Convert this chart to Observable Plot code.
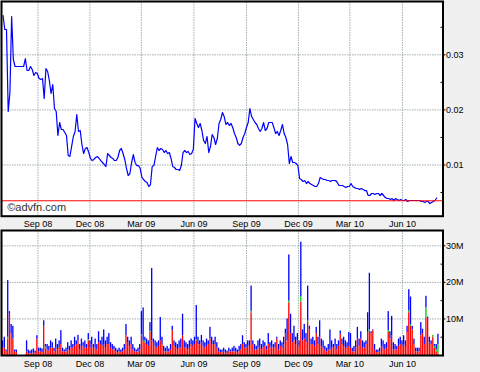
<!DOCTYPE html>
<html><head><meta charset="utf-8">
<script src="https://cdn.jsdelivr.net/npm/d3@7"></script>
<script src="https://cdn.jsdelivr.net/npm/@observablehq/plot@0.6"></script>
<style>
html,body{margin:0;padding:0;background:#f0f0f0;}
#chart{width:480px;height:372px;background:#f0f0f0;overflow:hidden}
#chart svg{display:block}
</style></head><body><div id="chart"></div>
<script>
// ---- data ----
const seriesStart = "2008-07-02";   // first sample date
const stepDays = 3;                 // one sample every 3 calendar days
const price = [
0.03714,0.0346,0.0346,0.01971,0.02316,0.03696,0.02915,0.02788,0.02788,0.02788,
0.02788,0.02788,0.02788,0.02933,0.02715,0.02715,0.02788,0.02733,0.02624,0.02679,
0.02661,0.0257,0.02552,0.0257,0.02207,0.02751,0.02697,0.02534,0.02298,0.02461,
0.02025,0.01971,0.01535,0.01771,0.01644,0.01644,0.01589,0.01535,0.01172,0.01154,
0.01336,0.01517,0.01608,0.01916,0.01608,0.01626,0.01372,0.01208,0.01299,0.01317,
0.01226,0.01118,0.01081,0.011,0.01136,0.01154,0.01118,0.01081,0.01045,0.01009,
0.00972,0.01208,0.01172,0.01136,0.01118,0.01081,0.01081,0.01136,0.01263,0.01299,
0.01208,0.011,0.00936,0.00809,0.00845,0.01045,0.0119,0.01045,0.0099,0.0099,
0.00936,0.00773,0.00736,0.007,0.00682,0.00609,0.00645,0.00972,0.0099,0.01154,
0.01317,0.01263,0.01299,0.01281,0.01226,0.01263,0.01208,0.01226,0.01118,0.00972,
0.00954,0.00918,0.00918,0.009,0.0099,0.01226,0.01263,0.01226,0.01245,0.0119,
0.01208,0.01281,0.01844,0.01753,0.0168,0.01753,0.01626,0.01444,0.0139,0.01517,
0.01226,0.01336,0.01553,0.01499,0.01372,0.01481,0.01753,0.01826,0.01953,0.0188,
0.01735,0.01771,0.01717,0.01753,0.0168,0.01571,0.01499,0.0139,0.01354,0.0139,
0.01499,0.01571,0.0168,0.01771,0.02025,0.0188,0.01826,0.01771,0.01735,0.01662,
0.01608,0.01662,0.01771,0.01626,0.01662,0.01771,0.01771,0.01771,0.0168,0.01571,
0.01608,0.01535,0.01626,0.01735,0.01571,0.01499,0.01372,0.01027,0.01154,0.01045,
0.01045,0.01027,0.0099,0.00754,0.00736,0.007,0.00718,0.00663,0.007,0.00663,
0.00645,0.00627,0.00609,0.00609,0.00663,0.00773,0.00754,0.00736,0.00736,0.00718,
0.00718,0.007,0.00718,0.00718,0.00718,0.00682,0.00627,0.00627,0.00627,0.00609,
0.00591,0.00609,0.00609,0.00663,0.00609,0.00591,0.00573,0.00573,0.00555,0.00573,
0.00555,0.00536,0.00536,0.00446,0.00446,0.00482,0.00482,0.00464,0.00482,0.00482,
0.00446,0.00482,0.00446,0.00409,0.00391,0.00391,0.00373,0.00391,0.00355,0.00391,
0.00373,0.00355,0.00373,0.00355,0.00355,0.00373,0.00337,0.00355,0.00355,0.00355,
0.00355,0.00355,0.00355,0.00355,0.00337,0.00337,0.00319,0.00337,0.00337,0.003,
0.00319,0.00337,0.00355,0.004
];
// volume in millions, same sample dates
const volSell = [
2,2,1,4.5,11.5,6,4.5,1,0.8,0,
0,0,0,0,1,0.5,0.5,0.5,0.8,0.5,
4.5,1,1,0.8,8,1.8,1.5,1.2,2,2,
1,2,1.5,2,3,1,1,1,1.5,1.2,
2,2,2.5,3,4,1.5,2.5,2.5,2,2,
4,2,3,2,2,1.5,3.5,3,2.5,3,
2,3,3,2,1.5,1.5,1,0.8,1,0.8,
1,1.5,5.4,3.5,2.5,3,1.5,1,1,1,
1.5,5.4,4,3.5,3,2.5,6.3,4,3.5,2.5,
2,2.5,4,3,1,1,1,1,1.5,6.8,
2.5,2,1.5,2,2,5.4,2,2,1.5,2,
3,2.5,3,4,3,3,3.5,2.5,2,2.5,
3,4.5,3,3,3,2,1,0.8,0.8,1,
0.8,0.5,1,1,1,1,1,0.8,1,1.5,
3,2,2,2.5,2.5,11.7,3,1.5,1.5,2,
2.5,1.5,2,2.5,1.5,3,2,2.5,2,2,
4.5,1.5,2.5,2,3,6,4,14.4,6,3.5,
4,3,4,2.5,14.6,4,4.5,3.5,9,7,
3,3,2.5,6,3,5,2.5,2,1.5,1,
1.5,1.5,2,2,2.5,1.5,2.5,5.8,3,2.5,
2,2,2.5,2,1,1,2,4.5,2.5,4.5,
2,2,3,6.3,6.3,6,6.8,1.5,0.8,0.8,
1,2.5,2,1.5,2,6.3,4.5,5.4,1.5,1.5,
1.5,2.5,3,2.5,3,2.5,6.3,11.7,8,7,
3,1,1,1,5.4,6,3,10.3,10,3.5,
3,5,2,1,0.5
];
const volNeutral = [
0,0,0,0.5,0,0,0,0,0,0,
0,0,0,0,0,0,0,0,0,0,
0,0,0,0,0,0.5,0,0,0,0,
0,0,0,0,0,0,0,0,0,0,
0,0,0,0,0,0,0,0,0,0,
0.3,0,0,0,0,0,0,0,0,0,
0,0,0,0,0,0,0,0,0,0,
0,0,0,0,0,0,0,0,0,0,
0,0.3,0,0.5,0,0,0.3,0,0,0,
0,0,0,0,0,0,0,0,0,0,
0,0,0,0,0,0,0,0,0,0,
0,0,0,0.3,0,0,0,0,0,0,
0,0,0,0,0,0,0,0,0,0,
0,0,0,0,0,0,0,0,0,0,
0,0,0,0,0,0.4,0,0,0,0,
0,0,0,0,0,0,0,0,0,0,
0,0,0,0,0,0,0,0.5,0,0,
0,0,0,0,1.5,0,0,0,0.4,0,
0,0,0,0,0,0,0,0,0,0,
0,0,0,0,0,0,0,0,0,0,
0,0,0,0,0,0,0,0,0,0,
0,0,0,0,0.8,0,0,0,0,0,
0,0,0,0,0,0.5,0,0,0,0,
0,0,0,0,0,0,0,0.5,0.4,0,
0,0,0,0,0,0,0,2.7,0,0,
0,0.5,0.5,0.5,2.5
];
const volBuy = [
2,3,0.5,15.5,0.5,2.5,3.5,0.5,0.7,0,
0,0,0,0,3,1,0.7,1,1,0.7,
0.9,1,1,1,1.5,0.7,1.5,1.3,2,1.5,
1,2.5,1.5,2,3.8,1,0.5,1,2,1.3,
2,1,2.5,1,1.5,1.5,2,1,2,1,
1.7,2,2,1,2.5,1.5,3,1,2.5,4,
2,2,3,1.5,1.5,1,1,0.7,1,0.7,
1,1.5,3.1,1.5,1.5,2,1.5,1,0.5,1,
1.5,6.3,9,1,1.5,1.5,2.4,19.8,1,1.5,
1.5,1.5,6.4,2,1.5,1,1.5,0.8,1.5,1.2,
1.5,1.5,1.5,2,2.5,5.9,2,1.5,1.5,2,
1.5,1.5,2,9.4,2,1,2,1.5,1.5,2,
1,3.2,2,1,2,1.5,1,0.7,0.7,1,
0.7,0.7,1,0.5,1,1.5,1,0.7,1.5,1.5,
2.4,1.5,1,1.5,1.5,6.9,1,1.5,1,2,
2,1.5,2,1,1,3,1.5,1.5,1,1.5,
0.5,1.5,1.5,1.5,2,1.2,6,12.6,5.3,2.5,
4,2,2,1.5,14.9,3,4,2.5,9.6,1,
1.5,2,1.5,1.7,2,4.5,2,2,1,1,
1.5,5.5,2,1,2,1.5,1.5,0.9,1.5,2.5,
2,1.5,3.8,4,1,1.5,2,3.2,2,2,
2,1.5,1,5.4,15.4,0.5,0.2,1.5,0.7,0.7,
1,2,2,1.5,1.5,5.2,2,5.3,2,1.5,
1,2,2,1.5,2.4,1.5,1.7,5.8,7.6,1,
1.5,1,1,1,3.6,1.2,2,3.2,0.5,1.5,
1,0,0.5,1.5,2.8
];
const xTickDates = ["2008-09-01","2008-12-01","2009-03-01","2009-06-01","2009-09-01","2009-12-01","2010-03-01","2010-06-01"];
const priceTicks = [0.01, 0.02, 0.03];
const priceMinor = [0.005, 0.015, 0.025, 0.035];
const volTicks = [10, 20, 30];
const volMinor = [5, 15, 25];
const refLevel = 0.0035;
const xDomain = ["2008-07-01", "2010-08-11"];
const priceDomain = [0.0007, 0.0395];
const volDomain = [0, 34.2];
const copyright = "©advfn.com";

// ---- build ----
const parse = d3.utcParse("%Y-%m-%d");
const t0 = parse(seriesStart);
const dateAt = i => d3.utcDay.offset(t0, i * stepDays);
const priceData = price.map((v, i) => ({date: dateAt(i), v}));
const volData = [];
volSell.forEach((s, i) => {
  const g = volNeutral[i], b = volBuy[i], d = dateAt(i);
  const start = d3.utcHour.offset(d, -36), end = d3.utcHour.offset(d, 36);
  volData.push({start, end, k: "sell", y1: 0, y2: s});
  volData.push({start, end, k: "neutral", y1: s, y2: s + g});
  volData.push({start, end, k: "buy", y1: s + g, y2: s + g + b});
});
const xT = xTickDates.map(parse);
const xD = xDomain.map(parse);

const W = 480, ML = 2, MR = 37.5;
const plotW = W - ML - MR;
const font = "'Liberation Sans', Arial, Helvetica, sans-serif";
const gridStyle = {stroke: "#a2aeae", strokeOpacity: 1, strokeWidth: 1, strokeDasharray: "1.5,1"};
const style = {background: "transparent", fontFamily: font, fontSize: "9px", color: "black", overflow: "visible"};
const fmtX = d3.utcFormat("%b %y");

const topChart = Plot.plot({
  width: W, height: 229, marginTop: 2, marginBottom: 13.3, marginLeft: ML, marginRight: MR,
  style,
  x: {type: "utc", domain: xD, label: null},
  y: {domain: priceDomain, label: null},
  marks: [
    Plot.frame({fill: "white"}),
    Plot.gridX(xT, gridStyle),
    Plot.gridY(priceTicks, gridStyle),
    Plot.line(priceData, {x: "date", y: "v", stroke: "#0000ff", strokeWidth: 1.2}),
    Plot.ruleY([refLevel], {stroke: "#ff0000", strokeWidth: 1}),
    Plot.text([copyright], {text: d => d, frameAnchor: "bottom-left", dx: 4.7, dy: -5, fontSize: 11, fill: "#333", textAnchor: "start", lineAnchor: "bottom"}),
    Plot.tickY(priceMinor, {y: d => d, stroke: "black", insetLeft: plotW - 2}),
    Plot.axisY(priceTicks, {anchor: "right", label: null, tickSize: 2, tickPadding: 1, tickFormat: d => d.toFixed(2)}),
    Plot.axisX(xT, {anchor: "bottom", label: null, tickSize: 0, tickPadding: 4.5, tickFormat: fmtX}),
    Plot.frame({stroke: "black", strokeWidth: 2, insetTop: -1, insetLeft: -1})
  ]
});

const botChart = Plot.plot({
  width: W, height: 143, marginTop: 1, marginBottom: 17, marginLeft: ML, marginRight: MR,
  style,
  x: {type: "utc", domain: xD, label: null},
  y: {domain: volDomain, label: null},
  color: {domain: ["sell", "neutral", "buy"], range: ["#ff0000", "#00c800", "#0000ff"]},
  marks: [
    Plot.frame({fill: "white"}),
    Plot.gridX(xT, gridStyle),
    Plot.gridY(volTicks, gridStyle),
    Plot.rect(volData, {x1: "start", x2: "end", y1: "y1", y2: "y2", fill: "k", insetLeft: 0.2, insetRight: 0.2}),
    Plot.tickY(volMinor, {y: d => d, stroke: "black", insetLeft: plotW - 2}),
    Plot.axisY(volTicks, {anchor: "right", label: null, tickSize: 2, tickPadding: 1, tickFormat: d => d + "M"}),
    Plot.axisX(xT, {anchor: "bottom", label: null, tickSize: 0, tickPadding: 5, tickFormat: fmtX}),
    Plot.frame({stroke: "black", strokeWidth: 2, insetLeft: -1})
  ]
});

const el = document.getElementById("chart");
el.appendChild(topChart);
el.appendChild(botChart);
</script>
</body></html>
